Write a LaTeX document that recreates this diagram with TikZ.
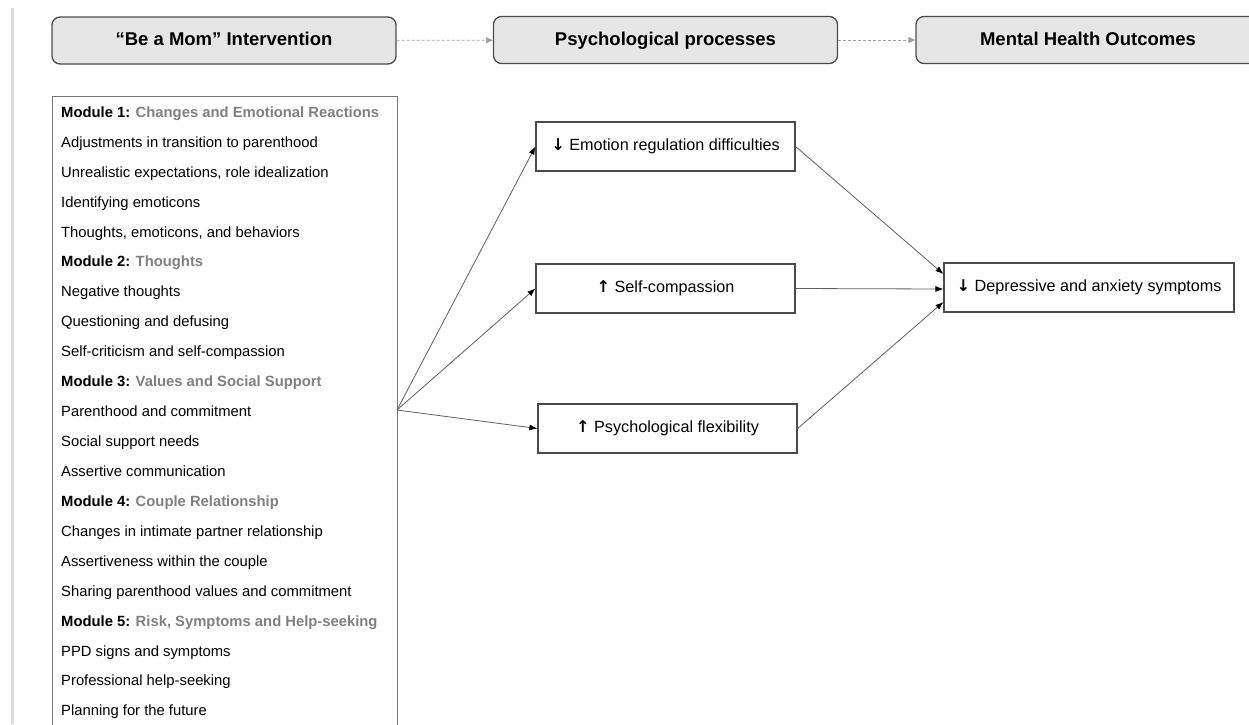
\documentclass[tikz,border=0pt]{standalone}
\usepackage{fontspec}
\setmainfont{Liberation Sans}
\newfontfamily\arrowfont{DejaVu Sans}
\usetikzlibrary{arrows.meta}
\definecolor{boxgray}{RGB}{230,230,230}
\definecolor{edgegray}{RGB}{75,75,75}
\definecolor{listgray}{RGB}{120,120,120}
\definecolor{linkgray}{RGB}{95,95,95}
\definecolor{dashgray}{RGB}{160,160,160}
\definecolor{topicgray}{RGB}{128,128,128}
\definecolor{sidegray}{RGB}{220,220,220}
\newcommand{\module}[2]{\textbf{Module #1:} \textcolor{topicgray}{\textbf{#2}}}
\newcommand{\decr}{{\arrowfont\bfseries ↓}}
\newcommand{\incr}{{\arrowfont\bfseries ↑}}
\tikzset{
    header/.style={draw=edgegray, fill=boxgray, line width=1.3pt, rounded corners=8pt,
        minimum width=344pt, minimum height=47pt, text height=13.5pt, text depth=3.5pt,
        font=\fontsize{18.5}{22}\selectfont\bfseries},
    item/.style={anchor=base west, inner sep=0pt, font=\fontsize{14.8}{17}\selectfont},
    process/.style={draw=edgegray, line width=1.2pt, minimum width=259pt, minimum height=49pt,
        text height=12pt, text depth=3.5pt, font=\fontsize{16.2}{19}\selectfont},
    link/.style={-{Latex[length=8pt, width=6pt, color=black]}, linkgray, line width=0.8pt},
    flow/.style={-{Triangle[length=7pt, width=6pt]}, dashgray, dash pattern=on 3pt off 2pt, line width=0.8pt}
}

\begin{document}
\begin{tikzpicture}[x=1pt, y=-1pt]
    \useasboundingbox (0,0) rectangle (1249,724);
    \draw[sidegray, line width=3pt] (12,8) -- (12,724);

    % column headers
    \node[header] (hInt) at (224,40.5) {“Be a Mom” Intervention};
    \node[header] (hProc) at (665.5,40) {Psychological processes};
    \node[header] (hOut) at (1088,40) {Mental Health Outcomes};
    \draw[flow] (hInt) -- (hProc);
    \draw[flow] (hProc) -- (hOut);

    % module list
    \draw[listgray, line width=1pt] (52,730) -- (52,96) -- (397,96) -- (397,730);
    \coordinate (modR) at (397,410);
    \foreach \txt [count=\i from 0] in {
        {\module{1}{Changes and Emotional Reactions}},
        {Adjustments in transition to parenthood},
        {Unrealistic expectations, role idealization},
        {Identifying emoticons},
        {Thoughts, emoticons, and behaviors},
        {\module{2}{Thoughts}},
        {Negative thoughts},
        {Questioning and defusing},
        {Self-criticism and self-compassion},
        {\module{3}{Values and Social Support}},
        {Parenthood and commitment},
        {Social support needs},
        {Assertive communication},
        {\module{4}{Couple Relationship}},
        {Changes in intimate partner relationship},
        {Assertiveness within the couple},
        {Sharing parenthood values and commitment},
        {\module{5}{Risk, Symptoms and Help-seeking}},
        {PPD signs and symptoms},
        {Professional help-seeking},
        {Planning for the future}}
        \node[item] (m\i) at (61,{117.3+29.93*\i}) {\txt};

    % processes and outcome
    \node[process] (pEmo) at (665.5,146.5) {\decr\ Emotion regulation difficulties};
    \node[process] (pSelf) at (665.5,288.5) {\incr\ Self-compassion};
    \node[process] (pFlex) at (667.5,428.5) {\incr\ Psychological flexibility};
    \node[process, minimum width=290pt] (oDep) at (1089,287.5) {\decr\ Depressive and anxiety symptoms};

    \draw[link] (modR) -- (pEmo.west);
    \draw[link] (modR) -- (pSelf.west);
    \draw[link] (modR) -- (pFlex.west);
    \draw[link] (pEmo.east) -- ([yshift=13.5pt]oDep.west);
    \draw[link] (pSelf.east) -- ([yshift=-1.5pt]oDep.west);
    \draw[link] (pFlex.east) -- ([yshift=-14.5pt]oDep.west);
\end{tikzpicture}
\end{document}
